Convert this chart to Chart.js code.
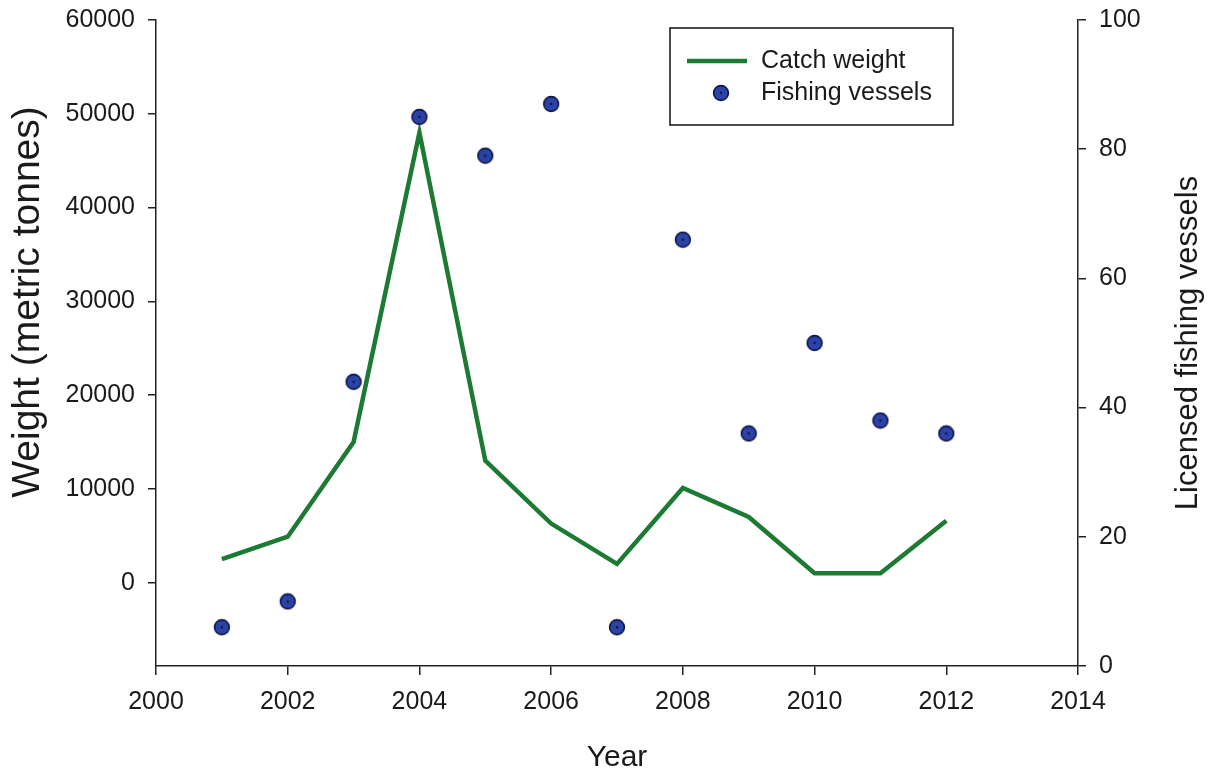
<!DOCTYPE html>
<html>
<head>
<meta charset="utf-8">
<script src="https://cdn.jsdelivr.net/npm/chart.js@4.4.1/dist/chart.umd.min.js"></script>
<style>
  html, body { margin: 0; padding: 0; background: #fff; }
  #wrap { width: 1214px; height: 773px; }
</style>
</head>
<body>
<div id="wrap"><canvas id="chart" width="1214" height="773"></canvas></div>
<script>
// data
const years = [2001, 2002, 2003, 2004, 2005, 2006, 2007, 2008, 2009, 2010, 2011, 2012];
const catchWeight = [2500, 4900, 15000, 48000, 13000, 6300, 2000, 10100, 7000, 1000, 1000, 6600];
const vessels = [6, 10, 44, 85, 79, 87, 6, 66, 36, 50, 38, 36];

const weightTicks = [0, 10000, 20000, 30000, 40000, 50000, 60000];
const vesselTicks = [0, 20, 40, 60, 80, 100];
const yearTicks = [2000, 2002, 2004, 2006, 2008, 2010, 2012, 2014];

const FONT = "'Liberation Sans', Arial, sans-serif";
const INK = '#1a1a1a';
const GREEN = '#1d7a33';

// dot marker with dark rim and centre pip
function makeMarker() {
  const c = document.createElement('canvas');
  c.width = 18; c.height = 18;
  const g = c.getContext('2d');
  g.beginPath();
  g.arc(9, 9, 7.4, 0, Math.PI * 2);
  g.fillStyle = '#2b43a6';
  g.fill();
  g.lineWidth = 1.6;
  g.strokeStyle = '#0e1647';
  g.stroke();
  g.beginPath();
  g.arc(9, 9, 1.3, 0, Math.PI * 2);
  g.fillStyle = '#0e1647';
  g.fill();
  return c;
}
const marker = makeMarker();

// y titles both read bottom-to-top, so draw them here
function vText(ctx, text, x, y, size) {
  ctx.save();
  ctx.translate(x, y);
  ctx.rotate(-Math.PI / 2);
  ctx.font = size + 'px ' + FONT;
  ctx.fillStyle = INK;
  ctx.textAlign = 'center';
  ctx.textBaseline = 'middle';
  ctx.fillText(text, 0, 0);
  ctx.restore();
}

const extras = {
  id: 'extras',
  afterDraw(chart) {
    const ctx = chart.ctx;
    const area = chart.chartArea;
    vText(ctx, 'Weight (metric tonnes)', 28, 302, 39);
    vText(ctx, 'Licensed fishing vessels', 1188, (area.top + area.bottom) / 2, 31);

    ctx.save();
    ctx.lineWidth = 1.5;
    ctx.strokeStyle = '#111';
    ctx.fillStyle = '#fff';
    ctx.fillRect(670, 28, 283, 97);
    ctx.strokeRect(670, 28, 283, 97);

    ctx.strokeStyle = GREEN;
    ctx.lineWidth = 4.5;
    ctx.beginPath();
    ctx.moveTo(687, 61);
    ctx.lineTo(747, 61);
    ctx.stroke();
    ctx.drawImage(marker, 721 - 9, 93 - 9);

    ctx.fillStyle = INK;
    ctx.font = '25px ' + FONT;
    ctx.textBaseline = 'middle';
    ctx.textAlign = 'left';
    ctx.fillText(chart.data.datasets[1].label, 761, 61);
    ctx.fillText(chart.data.datasets[0].label, 761, 93);
    ctx.restore();
  }
};

const fixTicks = list => scale => { scale.ticks = list.map(v => ({ value: v })); };
const fitY = w => s => { s.width = w; s.paddingTop = 0; s.paddingBottom = 0; };

const axisCommon = {
  border: { display: true, color: '#222', width: 1.5 },
  grid: { drawOnChartArea: false, drawTicks: true, tickLength: 8, color: '#222', lineWidth: 1.5 },
};

new Chart(document.getElementById('chart'), {
  data: {
    datasets: [
      {
        type: 'scatter',
        label: 'Fishing vessels',
        data: years.map((y, i) => ({ x: y, y: vessels[i] })),
        yAxisID: 'yR',
        pointStyle: marker,
        pointRadius: 8,
        order: 1,
      },
      {
        type: 'line',
        label: 'Catch weight',
        data: years.map((y, i) => ({ x: y, y: catchWeight[i] })),
        yAxisID: 'yL',
        borderColor: GREEN,
        borderWidth: 4.5,
        pointRadius: 0,
        tension: 0,
        fill: false,
        order: 2,
      },
    ],
  },
  options: {
    responsive: false,
    animation: false,
    layout: { padding: { top: 20, left: 0, right: 0, bottom: 0 } },
    plugins: { legend: { display: false }, tooltip: { enabled: false } },
    scales: {
      x: {
        type: 'linear',
        position: 'bottom',
        min: 2000,
        max: 2014,
        afterBuildTicks: fixTicks(yearTicks),
        afterFit: s => { s.height = 107; },
        ...axisCommon,
        grid: { ...axisCommon.grid, tickLength: 9 },
        ticks: { color: INK, font: { family: FONT, size: 25 }, padding: 12, callback: v => String(v), maxRotation: 0 },
        title: { display: true, text: 'Year', color: INK, font: { family: FONT, size: 30, lineHeight: 1 }, padding: { top: 0, bottom: 0 } },
      },
      yL: {
        type: 'linear',
        position: 'left',
        min: -8890,
        max: 60000,
        afterBuildTicks: fixTicks(weightTicks),
        afterFit: fitY(156),
        ...axisCommon,
        ticks: { color: INK, font: { family: FONT, size: 25 }, padding: 13, callback: v => String(v) },
      },
      yR: {
        type: 'linear',
        position: 'right',
        min: 0,
        max: 100,
        afterBuildTicks: fixTicks(vesselTicks),
        afterFit: fitY(136),
        ...axisCommon,
        ticks: { color: INK, font: { family: FONT, size: 25 }, padding: 13, callback: v => String(v) },
      },
    },
  },
  plugins: [extras],
});
</script>
</body>
</html>
